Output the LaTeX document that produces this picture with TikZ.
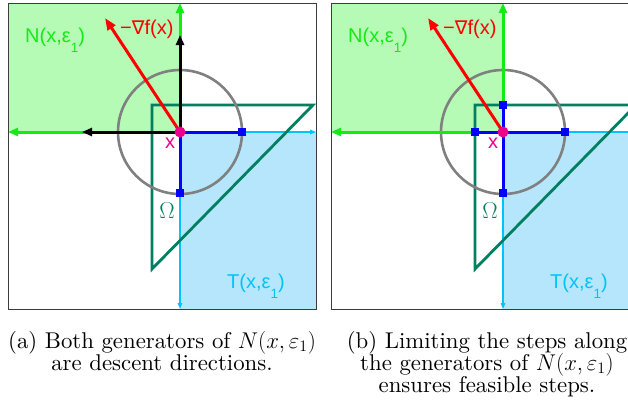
\RequirePackage{fix-cm}
\documentclass[tikz,border=0pt]{standalone}
\usepackage{fontspec}
\setmainfont{lmroman10-regular}[Extension=.otf, ItalicFont=lmroman10-italic, BoldFont=lmroman10-bold]
\newfontfamily\labfont{Liberation Sans}
\newfontfamily\symfont{DejaVu Sans}
\usetikzlibrary{arrows.meta}
\definecolor{ngreen}{RGB}{20,235,20}
\definecolor{nfill}{RGB}{181,250,181}
\definecolor{tcyan}{RGB}{0,195,250}
\definecolor{tfill}{RGB}{181,230,252}
\definecolor{omg}{RGB}{0,128,96}
\definecolor{gcirc}{RGB}{128,128,128}
\definecolor{frm}{RGB}{60,60,60}
\newcommand{\subone}{\raisebox{-0.5em}{\fontsize{13.5}{13.5}\selectfont 1}}
\tikzset{
  garrow/.style={line width=3pt, color=ngreen, -{Triangle[length=10pt,width=8pt]}},
  karrow/.style={line width=3pt, color=black, -{Triangle[length=10pt,width=8pt]}},
  rarrow/.style={line width=3pt, color=red, -{Triangle[length=12pt,width=9pt]}},
  carrow/.style={line width=1.4pt, color=tcyan, -{Triangle[length=6pt,width=4.5pt]}},
  bline/.style={line width=3pt, color=blue},
  omegaline/.style={line width=2.8pt, color=omg},
  circline/.style={line width=2.6pt, color=gcirc},
  framebox/.style={line width=1pt, color=frm},
  sq/.style={rectangle, fill=blue, minimum size=8.5pt, inner sep=0pt},
  xdot/.style={circle, fill=magenta, minimum size=11pt, inner sep=0pt},
  lab/.style={font=\labfont\fontsize{20}{20}\selectfont, inner sep=0pt, anchor=base west},
  omlab/.style={text=omg, inner sep=0pt, font=\fontsize{23}{23}\selectfont},
  captext/.style={font=\fontsize{22.8}{22}\selectfont, inner sep=0pt, anchor=base},
}
\begin{document}
\begin{tikzpicture}[x=1pt,y=-1pt]
\useasboundingbox (0,0) rectangle (628,405);
\clip (0,0) rectangle (628,405);
% ---------------- panel (a)
\coordinate (aC) at (180,132);
\coordinate (aE) at (242,132);
\coordinate (aS) at (180,193);
\coordinate (aTR) at (316,132);
\coordinate (aTB) at (180,309);
\coordinate (aNT) at (180,3);
\coordinate (aNL) at (8,132);
\coordinate (aKT) at (180,35);
\coordinate (aKL) at (82,132);
\coordinate (aG) at (105,18);
\coordinate (aO1) at (152,105);
\coordinate (aO2) at (313,105);
\coordinate (aO3) at (152,269);
\fill[nfill] (8,3) rectangle (aC);
\fill[tfill] (aC) rectangle (316,309);
\draw[carrow] (aE) -- (aTR);
\draw[carrow] (aS) -- (aTB);
\draw[omegaline] (aO1) -- (aO2) -- (aO3) -- cycle;
\draw[circline] (aC) circle[radius=62pt];
\draw[garrow] (aC) -- (aNT);
\draw[garrow] (aC) -- (aNL);
\draw[karrow] (aC) -- (aKT);
\draw[karrow] (aC) -- (aKL);
\draw[rarrow] (aC) -- (aG);
\draw[bline] (aC) -- (aE);
\draw[bline] (aC) -- (aS);
\node[sq] (aqE) at (aE) {};
\node[sq] (aqS) at (aS) {};
\node[xdot] (ax) at (aC) {};
\draw[framebox] (8,3) rectangle (316,309);
\node[lab, text=ngreen] (aNlab) at (25,42) {N(x,ε\subone)};
\node[lab, text=red] (aGlab) at (120,34) {−{\symfont\fontsize{19}{19}\selectfont ∇}f(x)};
\node[lab, text=tcyan] (aTlab) at (227,288) {T(x,ε\subone)};
\node[lab, text=magenta, anchor=center] (axlab) at (170,143) {x};
\node[omlab] (aOm) at (167,211) {$\Omega$};
\node[captext] (acap1) at (162,348) {(a) Both generators of $N(x,\varepsilon_1)$};
\node[captext] (acap2) at (162,370) {are descent directions.};
% ---------------- panel (b)
\coordinate (bC) at (503,132);
\coordinate (bE) at (565,132);
\coordinate (bW) at (475,132);
\coordinate (bS) at (503,193);
\coordinate (bN) at (503,105);
\coordinate (bTR) at (639,132);
\coordinate (bTB) at (503,309);
\coordinate (bNT) at (503,3);
\coordinate (bNL) at (331,132);
\coordinate (bG) at (428,18);
\coordinate (bO1) at (475,105);
\coordinate (bO2) at (636,105);
\coordinate (bO3) at (475,269);
\fill[nfill] (331,3) rectangle (bC);
\fill[tfill] (bC) rectangle (639,309);
\draw[carrow] (bE) -- (bTR);
\draw[carrow] (bS) -- (bTB);
\draw[omegaline] (bO1) -- (bO2) -- (bO3) -- cycle;
\draw[circline] (bC) circle[radius=62pt];
\draw[garrow] (bC) -- (bNT);
\draw[garrow] (bC) -- (bNL);
\draw[rarrow] (bC) -- (bG);
\draw[bline] (bW) -- (bE);
\draw[bline] (bN) -- (bS);
\node[sq] (bqE) at (bE) {};
\node[sq] (bqW) at (bW) {};
\node[sq] (bqN) at (bN) {};
\node[sq] (bqS) at (bS) {};
\node[xdot] (bx) at (bC) {};
\draw[framebox] (331,3) rectangle (639,309);
\node[lab, text=ngreen] (bNlab) at (348,42) {N(x,ε\subone)};
\node[lab, text=red] (bGlab) at (443,34) {−{\symfont\fontsize{19}{19}\selectfont ∇}f(x)};
\node[lab, text=tcyan] (bTlab) at (550,288) {T(x,ε\subone)};
\node[lab, text=magenta, anchor=center] (bxlab) at (493,143) {x};
\node[omlab] (bOm) at (490,211) {$\Omega$};
\node[captext] (bcap1) at (487,348) {(b) Limiting the steps along};
\node[captext] (bcap2) at (487,370) {the generators of $N(x,\varepsilon_1)$};
\node[captext] (bcap3) at (487,392) {ensures feasible steps.};
\end{tikzpicture}
\end{document}
